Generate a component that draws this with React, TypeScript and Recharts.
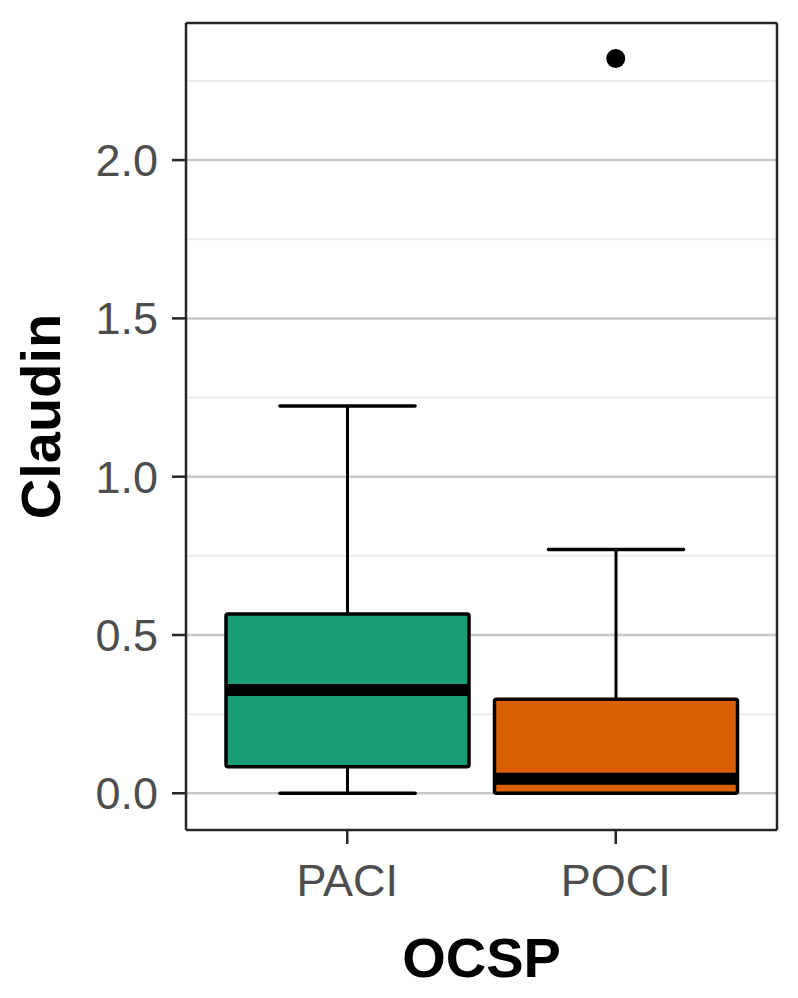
import React from 'react';
import {
  ComposedChart, Bar, Scatter, XAxis, YAxis, CartesianGrid,
} from 'recharts';

const categories = ['PACI', 'POCI'];
const whiskerLow = [0, 0];
const lowerQuartile = [0.084, 0];
const medians = [0.326, 0.046];
const upperQuartile = [0.566, 0.297];
const whiskerHigh = [1.223, 0.77];
const outliers = [null, 2.321];
const boxColors = ['#1b9e77', '#d95f02'];

const yTicks = [0, 0.5, 1, 1.5, 2];
const yMinor = [0.25, 0.75, 1.25, 1.75, 2.25];

const data = categories.map((group, i) => ({
  group,
  range: [whiskerLow[i], whiskerHigh[i]],
  low: whiskerLow[i],
  q1: lowerQuartile[i],
  median: medians[i],
  q3: upperQuartile[i],
  high: whiskerHigh[i],
  outlier: outliers[i],
  color: boxColors[i],
}));

const FONT = '"Liberation Sans", Arial, sans-serif';
const INK = '#262626';

function BoxShape(props: any) {
  const { x, y, width, height, payload } = props;
  const top = Math.min(y, y + height);
  const h = Math.abs(height);
  const { low, high, q1, q3, median, color } = payload;
  const py = (v: number) => top + ((high - v) / (high - low)) * h;
  const cx = x + width / 2;
  const cap = width * 0.278;
  return (
    <g>
      <line x1={cx} x2={cx} y1={py(high)} y2={py(q3)} stroke="#000" strokeWidth={3} />
      <line x1={cx} x2={cx} y1={py(q1)} y2={py(low)} stroke="#000" strokeWidth={3} />
      <line x1={cx - cap} x2={cx + cap} y1={py(high)} y2={py(high)} stroke="#000" strokeWidth={3.5} strokeLinecap="round" />
      <line x1={cx - cap} x2={cx + cap} y1={py(low)} y2={py(low)} stroke="#000" strokeWidth={3.5} strokeLinecap="round" />
      <rect x={x} y={py(q3)} width={width} height={py(q1) - py(q3)} fill={color} stroke="#000" strokeWidth={3.5} rx={2} />
      <line x1={x} x2={x + width} y1={py(median)} y2={py(median)} stroke="#000" strokeWidth={12} />
    </g>
  );
}

function OutlierDot(props: any) {
  const { cx, cy, payload } = props;
  if (payload == null || payload.outlier == null || !isFinite(cy)) return <g />;
  return <circle cx={cx} cy={cy} r={9.5} fill="#000" />;
}

function YTitle(props: any) {
  const { viewBox } = props;
  const x = viewBox.x + 32;
  const y = viewBox.y + viewBox.height / 2 - 10;
  return (
    <text x={x} y={y} transform={`rotate(-90, ${x}, ${y})`} textAnchor="middle" dominantBaseline="central"
      fontFamily={FONT} fontWeight="bold" fontSize={56} fill="#000">Claudin</text>
  );
}

function XTitle(props: any) {
  const { viewBox } = props;
  return (
    <text x={viewBox.x + viewBox.width / 2} y={969} textAnchor="middle"
      fontFamily={FONT} fontWeight="bold" fontSize={56} fill="#000">OCSP</text>
  );
}

export default function App() {
  const domain: [number, number] = [-0.116, 2.433];
  return (
    <ComposedChart width={782} height={982} data={data}
      margin={{ top: 14, right: 12, bottom: 0, left: 0 }} style={{ fontFamily: FONT }}>
      <CartesianGrid vertical={false} horizontalValues={yMinor} stroke="#ebebeb" strokeWidth={2} />
      <CartesianGrid vertical={false} horizontalValues={yTicks} stroke="#c8c8c8" strokeWidth={2.5} />
      <XAxis dataKey="group" height={160} padding={{ left: 27, right: 27 }}
        tickSize={14} tickMargin={20} tickLine={{ stroke: INK, strokeWidth: 2.5 }}
        axisLine={{ stroke: INK, strokeWidth: 2.5 }}
        tick={{ fill: '#4d4d4d', fontSize: 45, fontFamily: FONT }}
        label={<XTitle />} />
      <XAxis xAxisId="top" dataKey="group" orientation="top" height={1} tick={false} tickLine={false}
        padding={{ left: 27, right: 27 }} axisLine={{ stroke: INK, strokeWidth: 2.5 }} />
      <YAxis type="number" domain={domain} allowDataOverflow ticks={yTicks} width={178}
        tickFormatter={(v: number) => v.toFixed(1)}
        tickSize={14} tickMargin={14} tickLine={{ stroke: INK, strokeWidth: 2.5 }}
        axisLine={{ stroke: INK, strokeWidth: 2.5 }}
        tick={{ fill: '#4d4d4d', fontSize: 45, fontFamily: FONT }}
        label={<YTitle />} />
      <YAxis yAxisId="right" orientation="right" type="number" domain={domain} allowDataOverflow width={1}
        tick={false} tickLine={false} axisLine={{ stroke: INK, strokeWidth: 2.5 }} />
      <Bar dataKey="range" barSize={243} shape={<BoxShape />} isAnimationActive={false} />
      <Scatter dataKey="outlier" shape={<OutlierDot />} isAnimationActive={false} />
    </ComposedChart>
  );
}
